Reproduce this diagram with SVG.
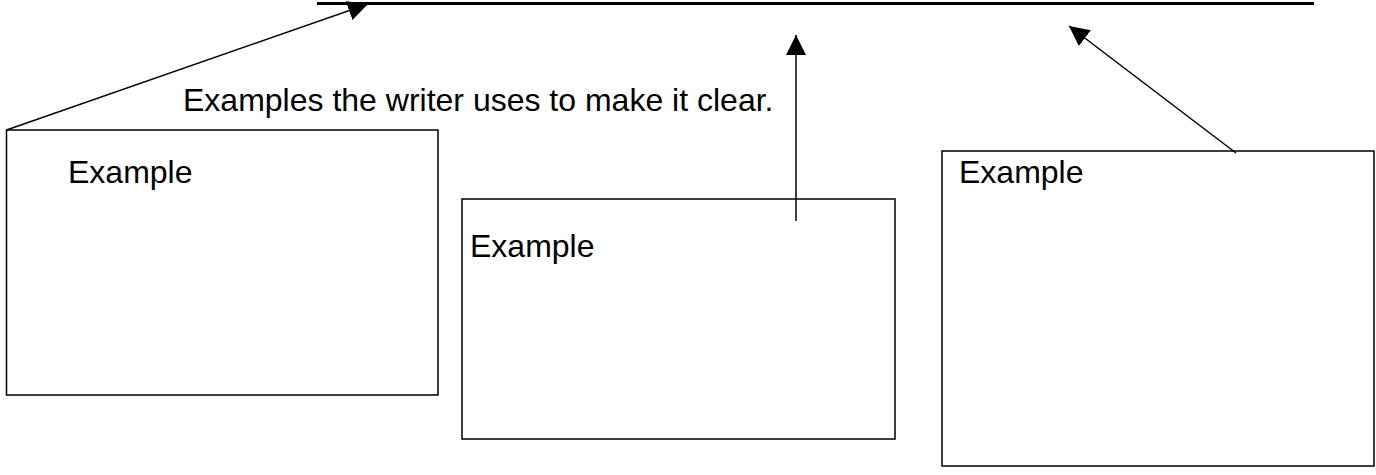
<svg xmlns="http://www.w3.org/2000/svg" width="1376" height="475" viewBox="0 0 1376 475">
  <style>
    .box { fill: #ffffff; stroke: #000000; stroke-width: 1.5; }
    .lbl { font-family: "Liberation Sans", Arial, sans-serif; font-size: 32px; fill: #000000; }
    .conn { stroke: #000000; stroke-width: 1.5; fill: none; marker-end: url(#arrow); }
  </style>
  <defs>
    <marker id="arrow" viewBox="0 0 20 20" refX="20" refY="10" markerWidth="20" markerHeight="20" markerUnits="userSpaceOnUse" orient="auto">
      <path d="M0,0 L20,10 L0,20 Z" fill="#000000"/>
    </marker>
  </defs>
  <rect x="0" y="0" width="1376" height="475" fill="#ffffff"/>

  <g id="answer-line">
    <line x1="317" y1="3.5" x2="1314" y2="3.5" stroke="#000000" stroke-width="3"/>
  </g>

  <g id="title">
    <text class="lbl" x="183" y="111">Examples the writer uses to make it clear.</text>
  </g>

  <g id="example-1">
    <rect class="box" x="6.5" y="130" width="431.5" height="265"/>
    <text class="lbl" x="68" y="183">Example</text>
  </g>

  <g id="example-2">
    <rect class="box" x="462" y="199" width="433" height="240"/>
    <text class="lbl" x="470" y="257">Example</text>
  </g>

  <g id="example-3">
    <rect class="box" x="942" y="151" width="432" height="315"/>
    <text class="lbl" x="959" y="183">Example</text>
  </g>

  <g id="connectors">
    <line class="conn" x1="6.5" y1="130" x2="368" y2="4"/>
    <line class="conn" x1="796" y1="221" x2="796" y2="35"/>
    <line class="conn" x1="1236" y1="153" x2="1069" y2="26"/>
  </g>
</svg>
